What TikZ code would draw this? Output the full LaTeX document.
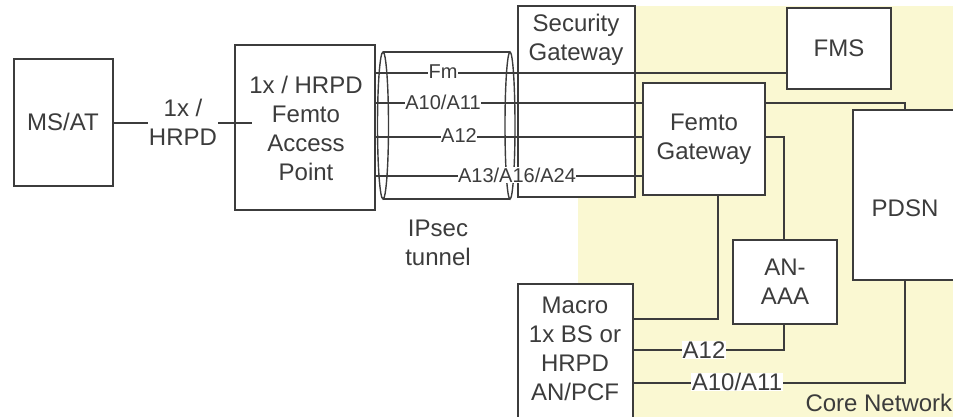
\documentclass[tikz,border=0pt]{standalone}
\usepackage{fontspec}
\setmainfont{Liberation Sans}
\definecolor{corebg}{HTML}{FAF8D2}
\definecolor{ink}{HTML}{3C3C3C}
\begin{document}
\begin{tikzpicture}[x=1pt,y=-1pt,
  line width=1.6pt, draw=ink, text=ink,
  font=\fontsize{24}{29}\selectfont,
  box/.style={draw=ink, fill=white, line width=1.6pt},
  lbl/.style={align=center, inner sep=0pt},
  tag/.style={fill=white, inner sep=0.5pt, font=\fontsize{20}{22}\selectfont},
  tagb/.style={fill=white, inner sep=0.5pt},
  wire/.style={draw=ink, line width=1.6pt}]
\useasboundingbox (0,0) rectangle (953,417);
\clip (0,0) rectangle (953,417);

% core network area
\fill[corebg] (578,6) rectangle (953,417);
\node[anchor=south east, inner sep=0pt] (core) at (953,413) {Core Network};

% security gateway
\draw[box] (518,6) rectangle (635,197);
\node[lbl] (sgw) at (576,40) {Security\\Gateway};

% end devices and access point
\draw[box] (14,59) rectangle (113,186);
\node[lbl] (msat) at (63,122) {MS/AT};
\coordinate (msE) at (113,123);
\draw[box] (235,45) rectangle (375,210);
\node[lbl] (ap) at (306,128) {1x / HRPD\\Femto\\Access\\Point};
\coordinate (apIn) at (252,123);
\draw[wire] (msE) -- (apIn);
\node[tagb, lbl, fill=white, inner sep=1pt] (airif) at (183,122) {1x /\\HRPD};

% IPsec tunnel
\draw[line width=1.4pt] (383,52) -- (510,52) (383,199) -- (510,199);
\draw[line width=1.4pt] (383,125.5) ellipse [x radius=5.5, y radius=73.5];
\draw[line width=1.4pt] (510,125.5) ellipse [x radius=5, y radius=73.5];
\node[lbl] (ipsec) at (438,243) {IPsec\\tunnel};

% core boxes
\draw[box] (787,8) rectangle (891,89);
\node[lbl] (fms) at (839,48) {FMS};
\draw[box] (643,83) rectangle (765,195);
\node[lbl] (fgw) at (704,139) {Femto\\Gateway};
\draw[box] (853,110) rectangle (970,280);
\node[lbl] (pdsn) at (905,208) {PDSN};
\draw[box] (733,240) rectangle (837,324);
\node[lbl] (anaaa) at (785,282) {AN-\\AAA};
\draw[box] (518,284) rectangle (633,430);
\node[lbl] (macro) at (575,349) {Macro\\1x BS or\\HRPD\\AN/PCF};

% anchor points on the box edges
\coordinate (apFm) at (375,73);   \coordinate (fmsW) at (787,73);
\coordinate (apA10) at (375,103); \coordinate (fgwA10) at (643,103);
\coordinate (apA12) at (375,137); \coordinate (fgwA12) at (643,137);
\coordinate (apA13) at (375,176); \coordinate (fgwA13) at (643,176);
\coordinate (fgwE1) at (765,103); \coordinate (pdsnN) at (905,110);
\coordinate (fgwE2) at (765,137); \coordinate (aaaN) at (784,240);
\coordinate (fgwS) at (718,195);  \coordinate (macE1) at (633,319);
\coordinate (macE2) at (633,350); \coordinate (aaaS) at (784,324);
\coordinate (macE3) at (633,383); \coordinate (pdsnS) at (905,280);

% interfaces through the tunnel
\draw[wire] (apFm) -- (fmsW);
\draw[wire] (apA10) -- (fgwA10);
\draw[wire] (apA12) -- (fgwA12);
\draw[wire] (apA13) -- (fgwA13);
\node[tag] (lFm) at (443,72) {Fm};
\node[tag] (lA10) at (443,102) {A10/A11};
\node[tag] (lA12) at (459,136) {A12};
\node[tag] (lA13) at (517,175) {A13/A16/A24};

% core network links
\draw[wire] (fgwE1) -| (pdsnN);
\draw[wire] (fgwE2) -| (aaaN);
\draw[wire] (fgwS) |- (macE1);
\draw[wire] (macE2) -| (aaaS);
\draw[wire] (macE3) -| (pdsnS);
\node[tagb] (bA12) at (704,350) {A12};
\node[tagb] (bA10) at (737,382) {A10/A11};
\end{tikzpicture}
\end{document}
